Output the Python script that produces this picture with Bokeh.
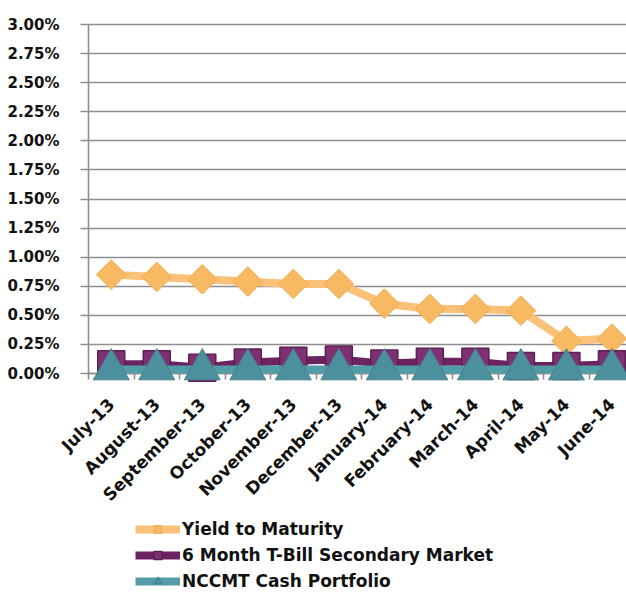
import math
from bokeh.plotting import figure
from bokeh.models import Range1d, FixedTicker, Legend, LegendItem
from bokeh.embed import file_html
from bokeh.resources import INLINE

months = ["July-13", "August-13", "September-13", "October-13", "November-13",
          "December-13", "January-14", "February-14", "March-14", "April-14",
          "May-14", "June-14"]
yield_to_maturity = [0.85, 0.83, 0.81, 0.79, 0.77, 0.77, 0.60, 0.555, 0.555, 0.54, 0.28, 0.30]
tbill_6m = [0.08, 0.08, 0.05, 0.095, 0.11, 0.12, 0.085, 0.10, 0.10, 0.065, 0.065, 0.08]
nccmt_cash = [0.035, 0.035, 0.035, 0.035, 0.035, 0.035, 0.035, 0.035, 0.035, 0.035, 0.035, 0.035]
y_ticks = [0.0, 0.25, 0.5, 0.75, 1.0, 1.25, 1.5, 1.75, 2.0, 2.25, 2.5, 2.75, 3.0]
y_tick_labels = ["0.00%", "0.25%", "0.50%", "0.75%", "1.00%", "1.25%", "1.50%",
                 "1.75%", "2.00%", "2.25%", "2.50%", "2.75%", "3.00%"]

xs = list(range(len(months)))
FONT = "DejaVu Sans"
GRID = "#8e8e8e"

# The frame covers the whole canvas; both axes are pinned inside it.
p = figure(frame_width=626, frame_height=593,
           x_range=Range1d(-2.4334, 11.32), y_range=Range1d(-1.891, 3.2063),
           output_backend="svg", toolbar_location=None,
           min_border_left=0, min_border_top=0, min_border_right=0,
           min_border_bottom=0, outline_line_color=None)

p.xgrid.visible = False
p.ygrid.visible = False

# y axis at the left category boundary; long inner ticks act as the gridlines
p.yaxis.fixed_location = -0.5
p.yaxis.level = "underlay"
p.yaxis.ticker = FixedTicker(ticks=y_ticks)
p.yaxis.bounds = (y_ticks[0], y_ticks[-1])
p.yaxis.major_label_overrides = {t: l for t, l in zip(y_ticks, y_tick_labels)}
p.yaxis.major_tick_out = 8
p.yaxis.major_tick_in = 540
p.yaxis.minor_tick_line_color = None
p.yaxis.axis_line_color = GRID
p.yaxis.axis_line_width = 1.6
p.yaxis.major_tick_line_color = GRID
p.yaxis.major_tick_line_width = 1.6
p.yaxis.major_label_standoff = 21
p.yaxis.major_label_text_font = FONT
p.yaxis.major_label_text_font_style = "bold"
p.yaxis.major_label_text_font_size = "15px"
p.yaxis.major_label_text_color = "#111111"

# x axis (placed at the 0% line)
p.xaxis.fixed_location = 0
p.xaxis.level = "underlay"
p.xaxis.ticker = FixedTicker(ticks=xs, minor_ticks=[i - 0.5 for i in range(len(months) + 1)])
p.xaxis.bounds = (-0.5, len(months) - 0.5)
p.xaxis.major_label_overrides = {i: m for i, m in enumerate(months)}
p.xaxis.major_label_orientation = math.pi / 4
p.xaxis.major_tick_out = 0
p.xaxis.major_tick_in = 0
p.xaxis.minor_tick_out = 6
p.xaxis.minor_tick_in = 0
p.xaxis.minor_tick_line_color = GRID
p.xaxis.minor_tick_line_width = 1.6
p.xaxis.axis_line_color = GRID
p.xaxis.axis_line_width = 1.6
p.xaxis.major_label_standoff = 22
p.xaxis.major_label_text_font = FONT
p.xaxis.major_label_text_font_style = "bold"
p.xaxis.major_label_text_font_size = "17px"
p.xaxis.major_label_text_color = "#111111"

# series
l1 = p.line(xs, yield_to_maturity, line_color="#FAC278", line_width=8)
s1 = p.scatter(xs, yield_to_maturity, marker="square", size=21, angle=math.pi / 4,
               fill_color="#F7B962", line_color="#EFAD55", line_width=1)
l2 = p.line(xs, tbill_6m, line_color="#6C2460", line_width=8)
s2 = p.scatter(xs, tbill_6m, marker="square", size=27,
               fill_color="#7E3172", line_color="#5E1F55", line_width=1.5)
l3 = p.line(xs, nccmt_cash, line_color="#529CA8", line_width=8)
s3 = p.scatter(xs, nccmt_cash, marker="triangle", size=36,
               fill_color="#4B909C", line_color="#43828D", line_width=1)

legend = Legend(items=[
    LegendItem(label="Yield to Maturity", renderers=[l1, s1]),
    LegendItem(label="6 Month T-Bill Secondary Market", renderers=[l2, s2]),
    LegendItem(label="NCCMT Cash Portfolio", renderers=[l3, s3]),
], location=(135, 2), orientation="vertical",
    label_text_font=FONT, label_text_font_style="bold",
    label_text_font_size="17px", label_text_color="#111111",
    glyph_width=45, glyph_height=20, label_height=20, spacing=6,
    padding=0, margin=0, border_line_color=None,
    background_fill_alpha=0, label_standoff=2)
p.add_layout(legend, "center")

open("out.html", "w").write(file_html(p, INLINE))
